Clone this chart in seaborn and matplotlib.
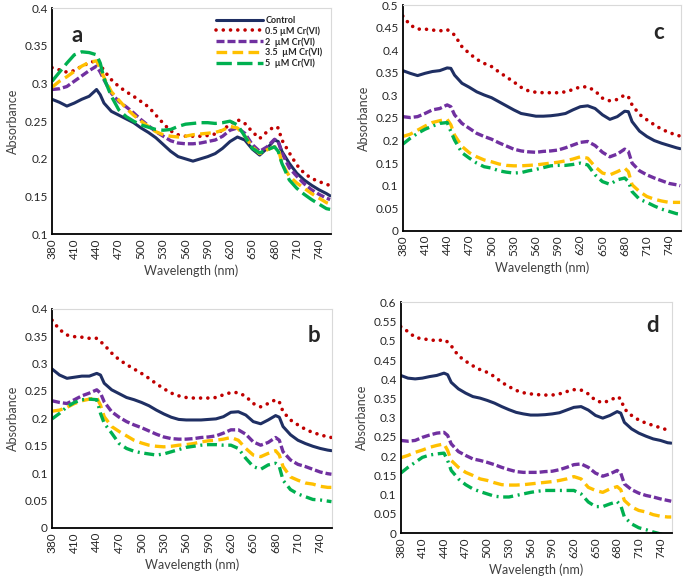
import numpy as np
import pandas as pd
import matplotlib
matplotlib.use("Agg")
import matplotlib.pyplot as plt
import seaborn as sns

# wavelength grid (nm)
wl = [380, 390, 400, 410, 420, 430, 440, 445,
      450, 460, 470, 480, 490, 500, 510, 520, 530, 540, 550, 560, 570, 580,
      590, 600, 610, 620, 630, 640, 650, 660, 670, 680, 685,
      690, 700, 710, 720, 730, 740, 750, 755]

series_names = ["Control", "0.5 \u00b5M Cr(VI)", "2  \u00b5M Cr(VI)",
                "3.5  \u00b5M Cr(VI)", "5  \u00b5M Cr(VI)"]

# panel a
a_control = [.279, .275, .270, .274, .279, .283, .292, .285,
             .274, .263, .258, .253, .248, .241, .235, .228, .219, .210, .203, .200, .197, .200,
             .203, .207, .214, .223, .229, .225, .213, .205, .214, .225, .223,
             .210, .194, .181, .172, .165, .159, .154, .151]
a_05 = [.321, .318, .315, .317, .323, .327, .331, .325,
        .317, .305, .296, .289, .283, .276, .269, .258, .247, .237, .232, .230, .230, .230,
        .231, .233, .238, .246, .252, .247, .236, .227, .236, .243, .241,
        .225, .208, .192, .181, .174, .170, .166, .165]
a_2 = [.292, .293, .296, .303, .310, .317, .323, .315,
       .305, .287, .276, .269, .261, .252, .244, .236, .230, .224, .221, .220, .220, .221,
       .223, .225, .230, .238, .241, .234, .219, .210, .216, .226, .223,
       .208, .188, .177, .167, .159, .153, .148, .146]
a_35 = [.295, .303, .309, .316, .323, .328, .330, .320,
        .308, .289, .278, .267, .258, .250, .243, .236, .232, .230, .229, .230, .232, .233,
        .234, .235, .238, .243, .241, .230, .216, .207, .212, .216, .214,
        .194, .177, .168, .161, .154, .148, .142, .140]
a_5 = [.303, .315, .327, .338, .342, .341, .338, .327,
       .307, .283, .265, .256, .250, .245, .242, .239, .238, .239, .243, .246, .247, .248,
       .248, .247, .248, .250, .245, .230, .214, .208, .212, .216, .210,
       .194, .172, .161, .153, .146, .140, .134, .133]

# panel b
b_control = [.290, .279, .273, .275, .277, .277, .282, .279,
             .264, .252, .245, .238, .234, .229, .223, .215, .208, .202, .198, .197, .197, .197,
             .198, .199, .203, .211, .212, .206, .194, .190, .197, .205, .202,
             .185, .170, .160, .154, .149, .145, .142, .141]
b_05 = [.379, .362, .352, .349, .348, .346, .346, .340,
        .334, .319, .307, .298, .290, .282, .273, .263, .254, .246, .241, .238, .237, .237,
        .237, .238, .243, .247, .247, .240, .227, .221, .227, .234, .230,
        .212, .197, .188, .180, .174, .170, .166, .165]
b_2 = [.232, .229, .227, .234, .241, .246, .252, .246,
       .230, .212, .202, .194, .188, .183, .177, .171, .166, .163, .162, .162, .163, .165,
       .166, .168, .173, .179, .179, .171, .157, .151, .156, .165, .160,
       .139, .124, .116, .112, .107, .102, .099, .098]
b_35 = [.213, .215, .220, .227, .232, .235, .238, .224,
        .203, .185, .176, .168, .160, .155, .151, .149, .148, .149, .151, .152, .154, .157,
        .159, .160, .162, .165, .160, .145, .133, .130, .136, .141, .133,
        .112, .093, .087, .082, .080, .076, .074, .074]
b_5 = [.199, .209, .221, .229, .234, .235, .234, .209,
       .191, .173, .154, .145, .140, .137, .135, .133, .135, .139, .143, .147, .149, .151,
       .152, .152, .151, .151, .145, .127, .112, .107, .115, .118, .112,
       .087, .070, .062, .057, .052, .051, .049, .048]

# panel c
c_control = [.355, .349, .344, .349, .353, .355, .361, .360,
             .345, .327, .318, .308, .301, .295, .286, .277, .268, .260, .257, .254, .254, .255,
             .257, .260, .268, .275, .277, .271, .257, .247, .253, .265, .264,
             .242, .221, .209, .200, .194, .189, .184, .182]
c_05 = [.476, .456, .447, .447, .445, .443, .446, .440,
        .434, .408, .393, .380, .371, .364, .352, .341, .330, .318, .310, .307, .306, .306,
        .306, .308, .313, .319, .319, .310, .294, .288, .291, .301, .297,
        .279, .258, .246, .235, .225, .218, .212, .210]
c_2 = [.253, .251, .253, .260, .268, .271, .279, .275,
       .257, .238, .227, .216, .209, .203, .195, .188, .181, .177, .175, .174, .176, .177,
       .179, .184, .190, .196, .198, .189, .174, .164, .170, .181, .176,
       .150, .133, .124, .117, .111, .105, .102, .100]
c_35 = [.209, .214, .223, .232, .240, .244, .247, .235,
        .212, .187, .173, .164, .157, .153, .148, .145, .144, .144, .145, .146, .148, .150,
        .152, .155, .159, .164, .161, .142, .128, .124, .131, .139, .131,
        .102, .087, .076, .070, .066, .063, .063, .063]
c_5 = [.192, .205, .216, .225, .232, .238, .240, .220,
       .201, .173, .161, .150, .142, .139, .133, .130, .128, .129, .133, .136, .140, .144,
       .145, .145, .147, .150, .146, .124, .109, .103, .113, .117, .109,
       .087, .070, .063, .055, .048, .043, .038, .037]

# panel d
d_control = [.410, .403, .401, .403, .407, .410, .416, .412,
             .392, .375, .364, .355, .351, .345, .338, .329, .321, .314, .310, .307, .307, .308,
             .310, .313, .320, .327, .329, .320, .306, .299, .306, .316, .312,
             .288, .271, .260, .252, .245, .241, .235, .234]
d_05 = [.537, .524, .509, .505, .503, .500, .503, .497,
        .487, .461, .447, .435, .425, .418, .407, .392, .381, .371, .365, .362, .360, .359,
        .359, .362, .368, .373, .372, .362, .345, .339, .345, .355, .349,
        .323, .306, .294, .286, .280, .274, .268, .267]
d_2 = [.241, .239, .241, .249, .255, .260, .262, .254,
       .232, .212, .202, .193, .189, .184, .178, .171, .165, .160, .158, .158, .158, .160,
       .161, .165, .171, .178, .180, .171, .156, .148, .154, .163, .156,
       .128, .113, .104, .098, .094, .089, .085, .083]
d_35 = [.196, .202, .210, .216, .223, .228, .232, .215,
        .189, .171, .158, .150, .141, .137, .131, .126, .125, .125, .126, .128, .130, .132,
        .134, .137, .141, .147, .141, .119, .111, .106, .115, .121, .113,
        .085, .068, .059, .055, .048, .044, .042, .042]
d_5 = [.156, .171, .184, .197, .203, .206, .208, .189,
       .163, .141, .126, .115, .108, .102, .096, .094, .094, .098, .102, .106, .109, .111,
       .111, .111, .111, .111, .102, .081, .069, .069, .076, .082, .072,
       .042, .024, .014, .009, .003, -.002, -.008, -.010]

colors = ["#1F2F63", "#C00000", "#7030A0", "#FFC000", "#00B050"]

sns.set_style("white")
plt.rcParams["font.family"] = ["Lato", "DejaVu Sans"]

fig = plt.figure(figsize=(6.85, 5.77), dpi=100)

panels = [
    # letter, data, rect, ymax, ystep, ymin, letter pos, green style
    ("a", [a_control, a_05, a_2, a_35, a_5], [0.076, 0.594, 0.407, 0.392], 0.4, 0.05, 0.1, (0.09, 0.88), "long"),
    ("c", [c_control, c_05, c_2, c_35, c_5], [0.588, 0.600, 0.406, 0.391], 0.5, 0.05, 0.0, (0.92, 0.88), "dashdot"),
    ("b", [b_control, b_05, b_2, b_35, b_5], [0.076, 0.085, 0.409, 0.380], 0.4, 0.05, 0.0, (0.935, 0.88), "dashdot"),
    ("d", [d_control, d_05, d_2, d_35, d_5], [0.585, 0.076, 0.396, 0.400], 0.6, 0.05, 0.0, (0.93, 0.90), "dashdot"),
]

for letter, data, rect, ymax, ystep, ymin, lpos, gstyle in panels:
    ax = fig.add_axes(rect)
    styles = [
        dict(linestyle="-", linewidth=2.2),
        dict(linestyle=(0, (0.01, 2.0)), linewidth=2.6, dash_capstyle="round"),
        dict(linestyle=(0, (2.4, 0.9)), linewidth=2.4),
        dict(linestyle=(0, (3.2, 1.6)), linewidth=2.4),
        dict(linestyle=(0, (4.6, 1.6)) if gstyle == "long" else (0, (3.0, 1.4, 0.6, 1.4)), linewidth=2.4),
    ]
    for name, vals, col, st in zip(series_names, data, colors, styles):
        df = pd.DataFrame({"wl": wl, "abs": vals})
        sns.lineplot(data=df, x="wl", y="abs", ax=ax, color=col, label=name, **st)
    ax.set_xlim(380, 756)
    ax.set_ylim(ymin, ymax)
    yt = np.round(np.arange(ymin, ymax + 0.001, ystep), 2)
    ax.set_xticks(np.arange(380, 741, 30))
    ax.set_yticks(yt)
    ax.set_yticklabels([("%g" % v) for v in yt])
    ax.tick_params(axis="x", rotation=90, labelsize=8.5, direction="in", length=3, width=1, pad=3,
                   labelcolor="#262626")
    ax.tick_params(axis="y", labelsize=8.5, direction="in", length=3, width=1, pad=3,
                   labelcolor="#262626")
    ax.set_xlabel("Wavelength (nm)", fontsize=9, color="#404040")
    ax.set_ylabel("Absorbance", fontsize=9, color="#404040")
    for s in ["left", "bottom"]:
        ax.spines[s].set_color("black")
        ax.spines[s].set_linewidth(1.3)
    for s in ["top", "right"]:
        ax.spines[s].set_color("#D9D9D9")
        ax.spines[s].set_linewidth(0.8)
    ax.text(lpos[0], lpos[1], letter, transform=ax.transAxes, fontsize=16,
            fontweight="bold", ha="center", va="center")
    if letter == "a":
        leg = ax.legend(loc="upper right", bbox_to_anchor=(0.99, 0.99), frameon=False,
                        fontsize=6.5, handlelength=5.2, handletextpad=0.3, labelspacing=0.15,
                        borderaxespad=0.2)
        for t in leg.get_texts():
            t.set_fontweight("bold")
    else:
        ax.get_legend().remove()

fig.savefig("out.png", dpi=100)
